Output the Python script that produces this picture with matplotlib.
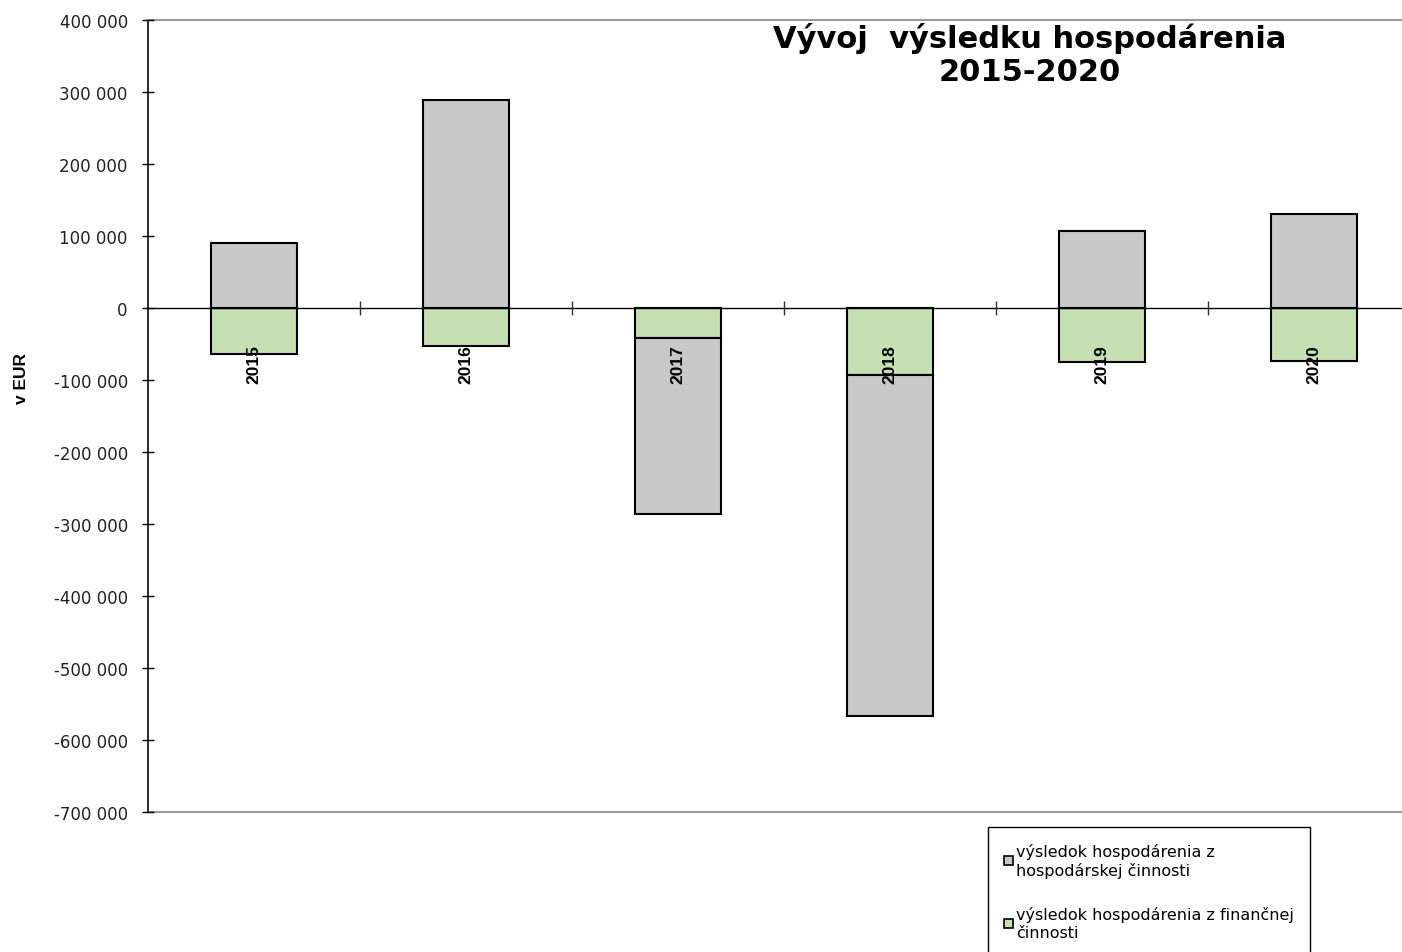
import matplotlib
matplotlib.use("Agg")
import matplotlib.pyplot as plt
import numpy as np
from matplotlib.ticker import FuncFormatter, FixedLocator
from matplotlib.patches import Patch

plt.rcParams['font.family'] = ['DejaVu Sans']

years = ['2015', '2016', '2017', '2018', '2019', '2020']
hosp = [90000, 289000, -244000, -474000, 107000, 130000]      # z hospodárskej činnosti
fin = [-64000, -53000, -42000, -93000, -75000, -74000]        # z finančnej činnosti
label_hosp = 'výsledok hospodárenia z\nhospodárskej činnosti'
label_fin = 'výsledok hospodárenia z finančnej\nčinnosti'
title = 'Vývoj  výsledku hospodárenia\n2015-2020'
ylabel = 'v EUR'

W, H = 1402, 953
fig = plt.figure(figsize=(W / 100, H / 100), dpi=100)
ax = fig.add_axes([148 / W, 1 - 813 / H, (1420 - 148) / W, (813 - 21) / H])

x = np.arange(len(years))
hosp_a = np.array(hosp, dtype=float)
fin_a = np.array(fin, dtype=float)
grey = '#C8C8C8'
green = '#C6E0B4'
bw = 0.405

ax.bar(x, fin_a, bw, color=green, edgecolor='black', linewidth=1.5, zorder=2)
bottom_h = np.where(hosp_a < 0, np.minimum(fin_a, 0), 0)
ax.bar(x, hosp_a, bw, bottom=bottom_h, color=grey, edgecolor='black', linewidth=1.5, zorder=2)

ax.set_axisbelow(False)
ax.set_xlim(-0.5, len(years) - 0.5)
ax.set_ylim(-700000, 400000)
ax.set_yticks(np.arange(-700000, 400001, 100000))
ax.yaxis.set_major_formatter(FuncFormatter(lambda v, p: f"{int(v):,}".replace(',', ' ')))
ax.tick_params(axis='y', direction='inout', length=9, width=1, pad=10, labelsize=12,
               colors='black', labelcolor='#222222')

# x axis at zero
ax.spines['bottom'].set_position(('data', 0))
ax.spines['bottom'].set_color('black')
ax.spines['bottom'].set_linewidth(1)
ax.set_xticks(x)
ax.set_xticklabels(years, rotation=90, fontweight='bold', fontsize=12.5, va='top',
                   family='Liberation Sans')
ax.tick_params(axis='x', which='major', length=0, pad=26)
ax.xaxis.set_minor_locator(FixedLocator(x[:-1] + 0.5))
ax.tick_params(axis='x', which='minor', direction='inout', length=10, width=1, color='#333333')

ax.spines['left'].set_color('#333333')
ax.spines['left'].set_linewidth(1.5)
ax.spines['top'].set_color('#999999')
ax.spines['top'].set_linewidth(1.5)
ax.spines['right'].set_visible(False)
ax.axhline(-700000, color='#999999', linewidth=1.5, clip_on=False, zorder=1)

fig.text(22 / W, 1 - 378 / H, ylabel, rotation=90, ha='center', va='center',
         fontsize=12.5, fontweight='bold', family='Liberation Sans')
fig.text(1030 / W, 1 - 55 / H, title, ha='center', va='center', fontsize=22,
         fontweight='bold', linespacing=1.15)

handles = [Patch(facecolor=grey, edgecolor='black', linewidth=1.2),
           Patch(facecolor=green, edgecolor='black', linewidth=1.2)]
leg = fig.legend(handles, [label_hosp, label_fin], loc='upper left',
                 bbox_to_anchor=(988 / W, 1 - 828 / H), fontsize=11.5,
                 frameon=True, fancybox=False, edgecolor='black', borderpad=1.0,
                 handlelength=0.55, handleheight=0.55, handletextpad=0.2,
                 labelspacing=1.8, borderaxespad=0, framealpha=1)
leg.get_frame().set_linewidth(1)
for t in leg.get_texts():
    t.set_linespacing(1.2)

fig.savefig('out.png', dpi=100)
